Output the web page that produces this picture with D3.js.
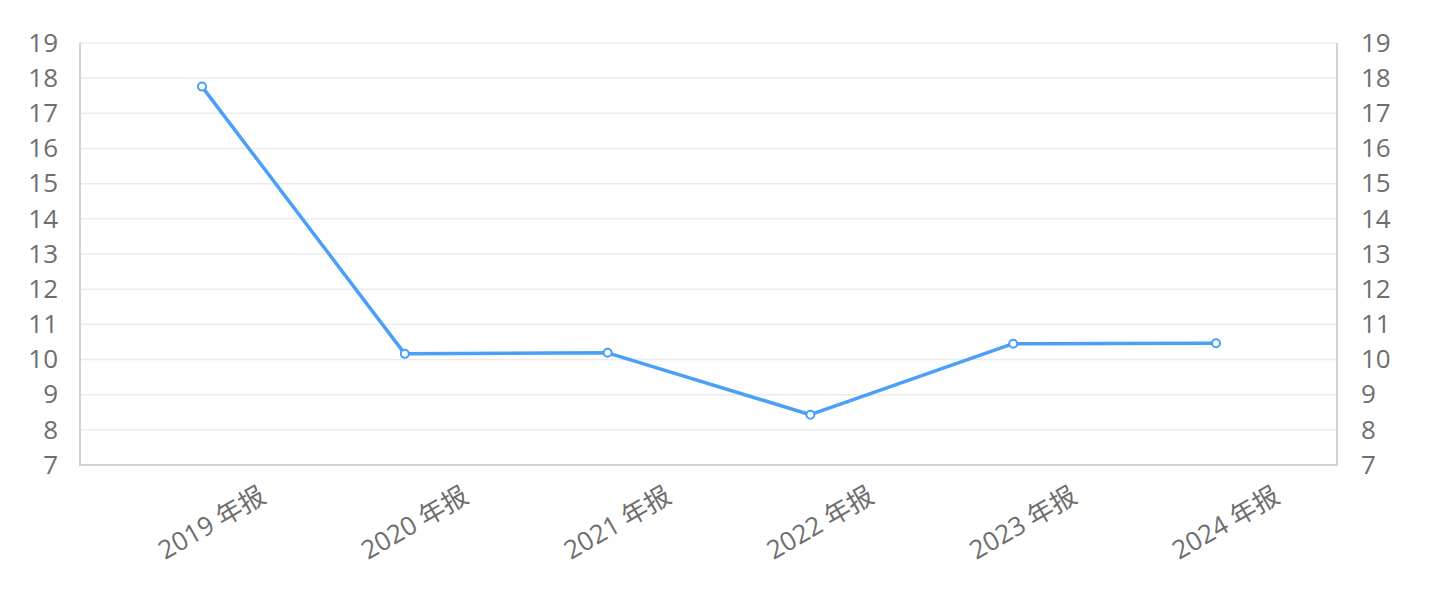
<!DOCTYPE html>
<html>
<head>
<meta charset="utf-8">
<script src="https://cdn.jsdelivr.net/npm/d3@7"></script>
<style>
  html, body { margin: 0; padding: 0; background: #fff; }
  svg { display: block; }
</style>
</head>
<body>
<svg id="chart" width="1438" height="613"></svg>
<script>
const categories = ["2019 年报", "2020 年报", "2021 年报", "2022 年报", "2023 年报", "2024 年报"];
const values = [17.76, 10.16, 10.19, 8.43, 10.45, 10.46];
const yTicks = [7, 8, 9, 10, 11, 12, 13, 14, 15, 16, 17, 18, 19];

const W = 1438, H = 613;
const plot = { left: 80, right: 1337, top: 43, bottom: 465 };
const svg = d3.select("#chart");
const font = "'Open Sans', 'Noto Sans CJK SC', sans-serif";
const textColor = "#6e6e6e";

const y = d3.scaleLinear().domain([7, 19]).range([plot.bottom, plot.top]);
const x = d3.scalePoint().domain(categories).range([202, 1216]);

// gridlines
svg.append("g").selectAll("line").data(yTicks).join("line")
  .attr("x1", plot.left).attr("x2", plot.right)
  .attr("y1", d => y(d)).attr("y2", d => y(d))
  .attr("stroke", "#ebebeb").attr("stroke-width", 1.5);

// frame axes
const axisColor = "#d2d2d2";
svg.append("line").attr("x1", plot.left).attr("x2", plot.left).attr("y1", plot.top).attr("y2", plot.bottom)
  .attr("stroke", axisColor).attr("stroke-width", 2);
svg.append("line").attr("x1", plot.right).attr("x2", plot.right).attr("y1", plot.top).attr("y2", plot.bottom)
  .attr("stroke", axisColor).attr("stroke-width", 2);
svg.append("line").attr("x1", plot.left - 1).attr("x2", plot.right + 1).attr("y1", plot.bottom).attr("y2", plot.bottom)
  .attr("stroke", axisColor).attr("stroke-width", 2);

// y axes via d3 axis
const leftAxis = svg.append("g").attr("transform", `translate(${plot.left},0)`)
  .call(d3.axisLeft(y).tickValues(yTicks).tickSize(0).tickPadding(22));
const rightAxis = svg.append("g").attr("transform", `translate(${plot.right},0)`)
  .call(d3.axisRight(y).tickValues(yTicks).tickSize(0).tickPadding(24));
[leftAxis, rightAxis].forEach(g => {
  g.select(".domain").remove();
  g.selectAll("text").attr("fill", textColor).style("font-family", font).style("font-size", "26px");
});

// x labels
svg.append("g").selectAll("text").data(categories).join("text")
  .attr("transform", d => `translate(${x(d) + 62},${plot.bottom + 30}) rotate(-30)`)
  .attr("text-anchor", "end")
  .attr("dominant-baseline", "middle")
  .attr("fill", textColor)
  .style("font-family", font).style("font-size", "26px")
  .text(d => d);

// line
const lineColor = "#4a9ff9";
svg.append("path").datum(values)
  .attr("fill", "none").attr("stroke", lineColor).attr("stroke-width", 3.5)
  .attr("stroke-linejoin", "round")
  .attr("d", d3.line().x((d, i) => x(categories[i])).y(d => y(d)));

svg.append("g").selectAll("circle").data(values).join("circle")
  .attr("cx", (d, i) => x(categories[i])).attr("cy", d => y(d)).attr("r", 4)
  .attr("fill", "#fff").attr("stroke", lineColor).attr("stroke-width", 2);
</script>
</body>
</html>
